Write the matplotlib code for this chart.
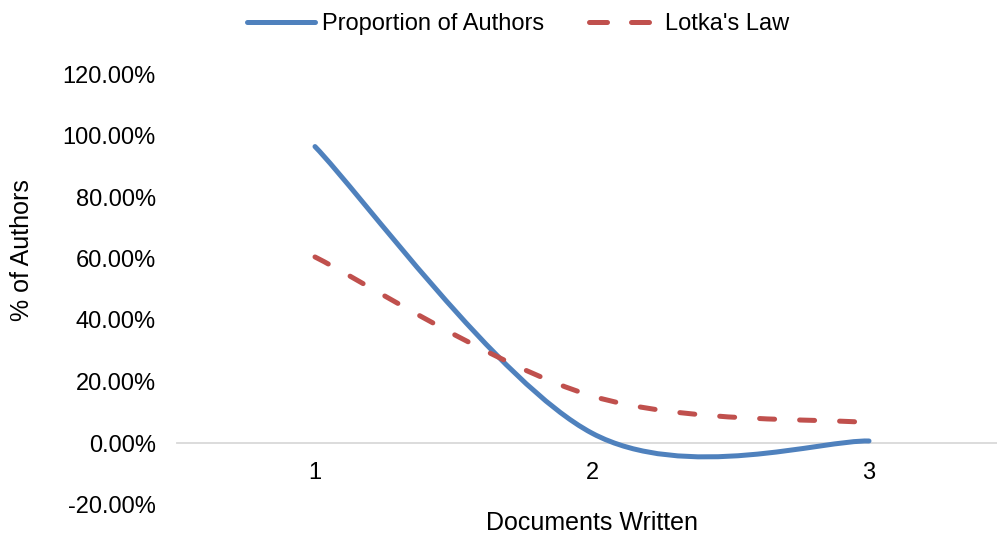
import numpy as np
import matplotlib.pyplot as plt
from matplotlib.path import Path
from matplotlib.patches import PathPatch
from matplotlib.lines import Line2D
from matplotlib.ticker import FuncFormatter

plt.rcParams['font.family'] = ['Liberation Sans', 'DejaVu Sans']

# data
docs = [1, 2, 3]
authors_pct = [96.4, 3.2, 0.65]
lotka_pct = [60.5, 15.3, 6.6]
series_names = ["Proportion of Authors", "Lotka's Law"]
y_ticks = [-20, 0, 20, 40, 60, 80, 100, 120]

BLUE = '#4F81BD'
RED = '#C0504D'


# Excel-style smoothed line: cubic bezier segments through the points
def smooth_path(xs, ys):
    pts = np.column_stack([xs, ys]).astype(float)
    n = len(pts)
    verts = [pts[0]]
    codes = [Path.MOVETO]
    for i in range(n - 1):
        p_prev = pts[max(i - 1, 0)]
        p0 = pts[i]
        p1 = pts[i + 1]
        p_next = pts[min(i + 2, n - 1)]
        c1 = p0 + (p1 - p_prev) / 6.0
        c2 = p1 - (p_next - p0) / 6.0
        verts += [c1, c2, p1]
        codes += [Path.CURVE4] * 3
    return Path(verts, codes)


fig = plt.figure(figsize=(9.97, 5.37), dpi=100)
W, H = 997, 537
# plot area in pixels (category axis runs 0.5..3.5, partly off the right edge)
left_px, right_px = 176.5, 1007.5
top_px, bot_px = 74, 504.5
ax = fig.add_axes([left_px / W, 1 - bot_px / H,
                   (right_px - left_px) / W, (bot_px - top_px) / H])
ax.set_xlim(0.5, 3.5)
ax.set_ylim(-20, 120)

blue = PathPatch(smooth_path(docs, authors_pct), fill=False, edgecolor=BLUE,
                 linewidth=3.6, capstyle='round', joinstyle='round', zorder=3)
red = PathPatch(smooth_path(docs, lotka_pct), fill=False, edgecolor=RED,
                linewidth=3.6, linestyle=(0, (3.0, 5.0)), capstyle='round',
                joinstyle='round', zorder=3)
ax.add_patch(blue)
ax.add_patch(red)

# axes styling
for side in ['left', 'right', 'top']:
    ax.spines[side].set_visible(False)
ax.spines['bottom'].set_position(('data', 0))
ax.spines['bottom'].set_color('#D9D9D9')
ax.spines['bottom'].set_linewidth(1.3)
ax.spines['bottom'].set_zorder(1)

ax.set_xticks(docs)
ax.set_xticklabels([str(d) for d in docs])
ax.set_yticks(y_ticks)
ax.yaxis.set_major_formatter(FuncFormatter(lambda v, p: f'{v:.2f}%'))
ax.tick_params(axis='both', length=0, labelsize=17, colors='black')
ax.tick_params(axis='x', pad=14)
ax.tick_params(axis='y', pad=15)

fig.text(592 / W, 1 - 523 / H, 'Documents Written', fontsize=18,
         ha='center', va='center')
fig.text(22 / W, 1 - 250 / H, '% of Authors', fontsize=18,
         ha='center', va='center', rotation=90)

handles = [
    Line2D([], [], color=BLUE, linewidth=3.6, solid_capstyle='round'),
    Line2D([], [], color=RED, linewidth=3.6, linestyle=(0, (3.6, 4.8)),
           dash_capstyle='round'),
]
fig.legend(handles, series_names, loc='center', ncol=2, frameon=False,
           bbox_to_anchor=(518 / W, 1 - 24 / H), fontsize=17,
           handlelength=2.9, handletextpad=0.3, columnspacing=1.9)

fig.savefig('out.png', dpi=100)
